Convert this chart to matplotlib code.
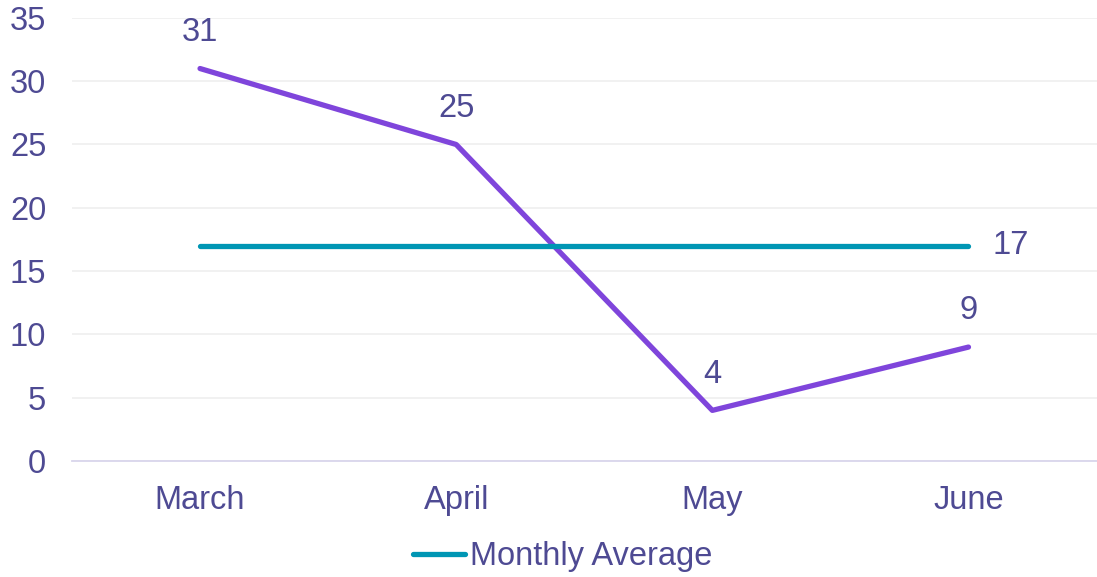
"""Monthly values vs. monthly average line chart."""

import matplotlib
import matplotlib.pyplot as plt

matplotlib.use("Agg")

months = ["March", "April", "May", "June"]
monthly_values = [31, 25, 4, 9]
monthly_average = [17, 17, 17, 17]
y_ticks = [0, 5, 10, 15, 20, 25, 30, 35]

TEXT_COLOR = "#4E4A93"
PURPLE = "#7F45DB"
TEAL = "#0096B4"
FS = 23.5

plt.rcParams["font.family"] = ["Liberation Sans", "DejaVu Sans"]

fig = plt.figure(figsize=(10.97, 5.77), dpi=100)
ax = fig.add_axes([0.0656, 0.201, 0.934, 0.768])

x = list(range(len(months)))
ax.plot(x, monthly_values, color=PURPLE, linewidth=3.8, solid_capstyle="round")
ax.plot(x, monthly_average, color=TEAL, linewidth=3.8, solid_capstyle="round",
        label="Monthly Average")

for xi, v in zip(x, monthly_values):
    ax.annotate(str(v), (xi, v), xytext=(0, 15), textcoords="offset points",
                ha="center", va="bottom", fontsize=FS, color=TEXT_COLOR)
ax.annotate(str(monthly_average[-1]), (x[-1], monthly_average[-1]), xytext=(17, 0),
            textcoords="offset points", ha="left", va="center", fontsize=FS,
            color=TEXT_COLOR)

ax.set_xlim(-0.5, len(months) - 0.5)
ax.set_ylim(0, 35)
ax.set_xticks(x)
ax.set_xticklabels(months)
ax.set_yticks(y_ticks)
ax.tick_params(axis="both", length=0, labelsize=FS, labelcolor=TEXT_COLOR)
ax.tick_params(axis="x", pad=17)
ax.tick_params(axis="y", pad=18.5)

ax.grid(axis="y", color="#F0F0F0", linewidth=1.3)
ax.set_axisbelow(True)
for side in ["top", "right", "left"]:
    ax.spines[side].set_visible(False)
ax.spines["bottom"].set_color("#D9D6EC")
ax.spines["bottom"].set_linewidth(1.3)

handles, labels = ax.get_legend_handles_labels()
leg = fig.legend(handles, labels, loc="center", bbox_to_anchor=(0.513, 0.035),
                 frameon=False, fontsize=FS, handlelength=1.6, handletextpad=0.15,
                 borderpad=0, borderaxespad=0)
for t in leg.get_texts():
    t.set_color(TEXT_COLOR)

fig.savefig("out.png", dpi=100)
